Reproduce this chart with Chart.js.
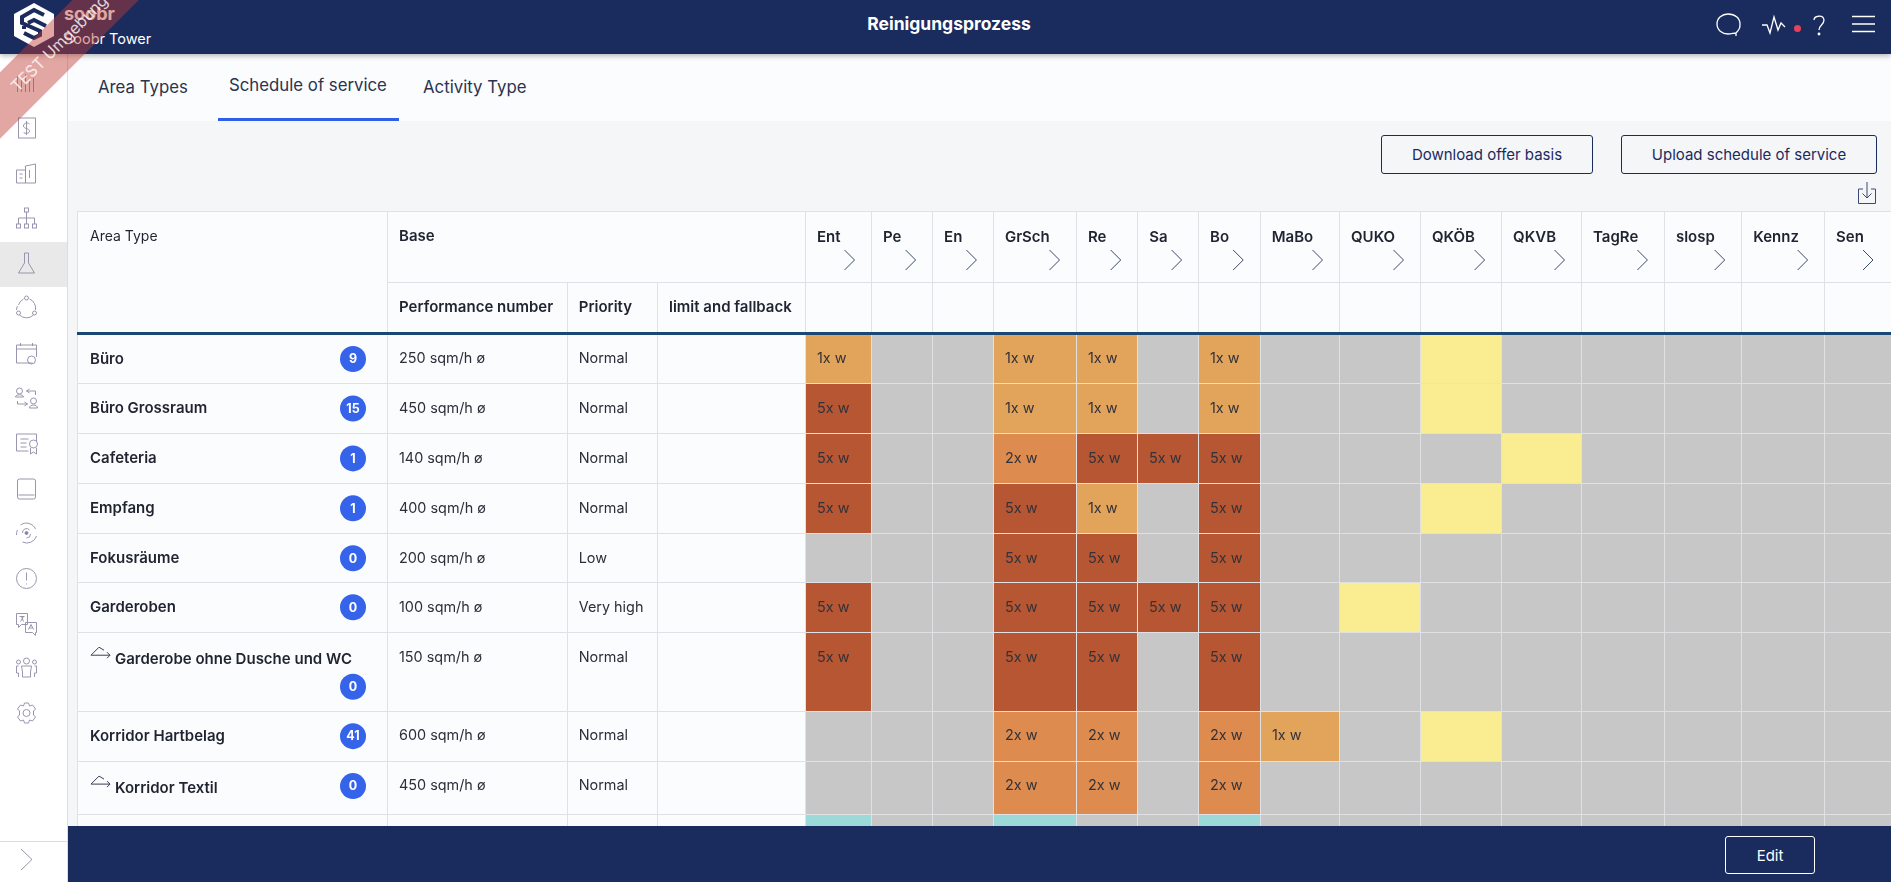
<!DOCTYPE html>
<html>
<head>
<meta charset="utf-8">
<title>Reinigungsprozess</title>
<script src="https://cdn.jsdelivr.net/npm/chart.js@4"></script>
<style>
  html, body { margin: 0; width: 1891px; height: 882px; overflow: hidden; background: #f5f6f8; font-family: Inter, Roboto, sans-serif; color: #1f2430; }
  .abs { position: absolute; }
  /* ============= TOP BAR ============== */
  .top-bar { position: absolute; left: 0; top: 0; width: 1891px; height: 54px; background: #1a2b5e; box-shadow: 0 2px 5px rgba(0,0,0,.28); z-index: 6; color: #fff; }
  .top-title { position: absolute; left: 0; width: 1898px; top: 13px; text-align: center; font-size: 17.5px; font-weight: 700; }
  .brand { position: absolute; left: 64px; top: 3px; font-size: 18px; font-weight: 700; }
  .site { position: absolute; left: 64px; top: 30px; font-size: 14.5px; }
  /* ============= SIDEBAR ============== */
  .sidebar { position: absolute; left: 0; top: 54px; width: 67px; height: 828px; background: #fff; border-right: 1px solid #dcdde0; z-index: 3; }
  .side-active { position: absolute; left: 0; top: 188px; width: 67px; height: 45px; background: #e9e9e9; }
  .side-line { position: absolute; left: 0; top: 787px; width: 67px; height: 1px; background: #dcdde0; }
  /* ============= TABS ============== */
  .tabs { position: absolute; left: 68px; top: 54px; width: 1823px; height: 67px; background: #fbfcfd; }
  .tab { position: absolute; font-size: 16.8px; color: #2a3350; white-space: nowrap; }
  .tab-line { position: absolute; left: 150px; top: 64px; width: 181px; height: 3px; background: #2f5fe8; }
  /* ============= BUTTONS ============== */
  .btn { position: absolute; box-sizing: border-box; border: 1px solid #1a2b5e; border-radius: 3px; color: #1a2b5e; font-size: 15px; display: flex; align-items: center; justify-content: center; }
  .bottom-bar { position: absolute; left: 68px; top: 826px; width: 1823px; height: 56px; background: #1a2b5e; z-index: 5; }
  .ribbon { position: absolute; left: -91px; top: 23px; width: 295px; padding-left: 5px; height: 47px; line-height: 43px; text-align: center; transform: rotate(-45deg); background: rgba(190,60,50,.45); color: rgba(255,255,255,.8); font-size: 16px; z-index: 10; }
  #chartWrap { position: absolute; left: 77px; top: 211px; width: 1814px; height: 653px; z-index: 1; }
</style>
</head>
<body>

<div class="tabs">
  <div class="tab" style="left:30px;top:23px">Area Types</div>
  <div class="tab" style="left:161px;top:21px">Schedule of service</div>
  <div class="tab" style="left:355px;top:23px">Activity Type</div>
  <div class="tab-line"></div>
</div>

<div class="btn" style="left:1381px;top:135px;width:212px;height:39px">Download offer basis</div>
<div class="btn" style="left:1621px;top:135px;width:256px;height:39px">Upload schedule of service</div>
<svg class="abs" style="left:1856px;top:181px" width="22" height="24" fill="none" stroke="#3a4a75">
  <path d="M7 8H2.5V22.5H19.5V8H15M11 1V17M6.5 12.5L11 17L15.5 12.5"/>
</svg>

<div id="chartWrap"><canvas id="scheduleChart" width="1814" height="653"></canvas></div>

<div class="bottom-bar">
  <div class="btn" style="left:1657px;top:10px;width:90px;height:38px;border-color:#fff;color:#fff">Edit</div>
</div>

<div class="top-bar">
  <svg class="abs" style="left:13px;top:2px" width="42" height="46">
    <path d="M21 1L41 12V34L21 45L1 34V12Z" fill="#fff"/>
    <path d="M31 13L21 8L9 15V21L27 29V33L21 36L11 31M11 24V27M15 21L21 18L33 24" fill="none" stroke="#1a2b5e" stroke-width="4"/>
  </svg>
  <div class="brand">soobr</div>
  <div class="site">Soobr Tower</div>
  <div class="top-title">Reinigungsprozess</div>
  <svg class="abs" style="left:1710px;top:8px" width="175" height="34" fill="none" stroke="#fff" stroke-width="1.3">
    <path d="M26 25C30 21 30 19 30 16C30 10 25 6 18 6C12 6 7 10 7 16C7 22 12 26 18 26C21 26 24 25 26 25V28"/>
    <path d="M52 17H57L60 25L64 9L68 22L71 15L75 19"/>
    <circle cx="87.5" cy="20.5" r="3.5" fill="#e8405a" stroke="none"/>
    <path d="M104 12C104 8 113 6 114 12C114 17 109 17 109 22"/>
    <circle cx="109" cy="26" r=".8"/>
    <path d="M142 8.5H165M142 16H165M142 23.5H165"/>
  </svg>
</div>

<div class="sidebar">
  <div class="side-active"></div>
  <div class="side-line"></div>
  <svg class="abs" style="left:0;top:-54px" width="67" height="882" fill="none" stroke="#8f8aa6" stroke-width=".9">
    <g transform="translate(26.5,83)"><path d="M-9 9V-7M-5 9V-3M-1 9V-9M3 9V-2M7 9V-5"/></g>
    <g transform="translate(26.5,128)"><rect x="-8" y="-10" width="17" height="20"/><path d="M3 -4C1 -6 -3 -5 -3 -2C-3 1 3 0 3 3C3 6 -2 6 -3 4M0 -7V7"/></g>
    <g transform="translate(26.5,173)"><path d="M-10 -3H-1V10H-10ZM-1 10V-7L9 -9V10H-1M-7 1H-4M-7 5H-4M3 -3V5"/></g>
    <g transform="translate(26.5,218)"><rect x="-2" y="-10" width="4" height="4"/><rect x="-10" y="6" width="4" height="4"/><rect x="-2" y="6" width="4" height="4"/><rect x="6" y="6" width="4" height="4"/><path d="M0 -6V6M-8 6V0H8V6"/></g>
    <g transform="translate(26.5,263)"><path d="M-2 -10H2V0L8 10H-8L-2 0Z"/></g>
    <g transform="translate(26.5,308)"><path d="M-8 -3A10 10 0 0 1 -3 -9M3 -9A10 10 0 0 1 9 2M7 7A10 10 0 0 1 -7 7M-10 2A10 10 0 0 1 -9 -2"/><circle cx="0" cy="-10" r="2"/><circle cx="-8" cy="5" r="2"/><circle cx="8" cy="5" r="2"/></g>
    <g transform="translate(26.5,354)"><path d="M6 9H-10V-9H10V3M-10 -5H10M-6 -11V-8M6 -11V-8"/><circle cx="5" cy="6" r="4"/></g>
    <g transform="translate(26.5,397)"><circle cx="-7" cy="-6" r="3"/><path d="M-11 0C-11 -3 -3 -3 -3 0V0H-11ZM3 -8L0 -6L3 -4M0 -6H9V-2M-9 4V7H1M-2 5L1 7L-2 9"/><circle cx="7" cy="4" r="3"/><path d="M3 11C3 7 11 7 11 11H3Z"/></g>
    <g transform="translate(26.5,443)"><path d="M6 -9H-10V8H2M-6 -4H2M-6 0H0M-6 4H0M10 -2V-9H6"/><circle cx="7" cy="1" r="4"/><path d="M4 5V11L7 9L10 11V5"/></g>
    <g transform="translate(26.5,489)"><rect x="-9" y="-10" width="18" height="20" rx="2"/><path d="M-8 6H8"/></g>
    <g transform="translate(26.5,533)"><path d="M-6 -8A10 10 0 0 1 9 -4M10 3A10 10 0 0 1 -4 9M-10 2A10 10 0 0 1 -9 -3"/><circle r="1.5" fill="#7f7a98"/><path d="M-4 0A4 4 0 0 1 3 -3M4 1A4 4 0 0 1 0 5"/></g>
    <g transform="translate(26.5,578.5)"><circle r="10"/><path d="M0 -6V2M0 5V6"/></g>
    <g transform="translate(26.5,623.5)"><path d="M-10 -10H1V1H-5L-8 4V1H-10ZM-1 -1H10V9H9V12L6 9H-1ZM-7 -7H-2M-5 -7L-3 -2M-3 -7L-6 -2M2 6L4.5 1L7 6M3 4.5H6"/></g>
    <g transform="translate(26.5,668)"><circle cx="0" cy="-7" r="3"/><circle cx="-8" cy="-6" r="2"/><circle cx="8" cy="-6" r="2"/><path d="M-5 -2H5L4 4V9H-4V4ZM-8 -2H-10V5H-8V9M8 -2H10V5H8V9"/></g>
    <g transform="translate(26.5,713)"><circle r="3.5"/><path d="M-2 -10H2L3 -7L6 -8L9 -4L7 -2L7 2L9 4L6 8L3 7L2 10H-2L-3 7L-6 8L-9 4L-7 2L-7 -2L-9 -4L-6 -8L-3 -7Z"/></g>
    <path d="M21 849L32 859.5L21 870" stroke="#8a8a9a"/>
  </svg>
</div>

<div class="ribbon">TEST Umgebung</div>

<script>
// --- data ---
const colNames = ["Ent","Pe","En","GrSch","Re","Sa","Bo","MaBo","QUKO","QKÖB","QKVB","TagRe","slosp","Kennz","Sen"];
const rowNames = ["Büro","Büro Grossraum","Cafeteria","Empfang","Fokusräume","Garderoben","Garderobe ohne Dusche und WC","Korridor Hartbelag","Korridor Textil",""];
const rowCounts = [9,15,1,1,0,0,0,41,0,null];
const rowPerf = ["250 sqm/h ø","450 sqm/h ø","140 sqm/h ø","400 sqm/h ø","200 sqm/h ø","100 sqm/h ø","150 sqm/h ø","600 sqm/h ø","450 sqm/h ø",""];
const rowPriority = ["Normal","Normal","Normal","Normal","Low","Very high","Normal","Normal","Normal",""];
const subRows = ["Garderobe ohne Dusche und WC","Korridor Textil"];

// cell values: number = times per week, Q = quality check (yellow), T = teal, 0 = not planned
const Q = "Q", T = "T";
const buero      = [1,0,0,1,1,0,1,0,0,Q,0,0,0,0,0];
const grossraum  = [5,0,0,1,1,0,1,0,0,Q,0,0,0,0,0];
const cafeteria  = [5,0,0,2,5,5,5,0,0,0,Q,0,0,0,0];
const empfang    = [5,0,0,5,1,0,5,0,0,Q,0,0,0,0,0];
const fokus      = [0,0,0,5,5,0,5,0,0,0,0,0,0,0,0];
const garderoben = [5,0,0,5,5,5,5,0,Q,0,0,0,0,0,0];
const garderobe2 = [5,0,0,5,5,0,5,0,0,0,0,0,0,0,0];
const hartbelag  = [0,0,0,2,2,0,2,1,0,Q,0,0,0,0,0];
const textil     = [0,0,0,2,2,0,2,0,0,0,0,0,0,0,0];
const lastRow    = [T,0,0,T,0,0,T,0,0,0,0,0,0,0,0];
const rowValues = [buero,grossraum,cafeteria,empfang,fokus,garderoben,garderobe2,hartbelag,textil,lastRow];

// --- layout of the table, in pixels ---
const colWidths = [66,61.1,60.8,83.1,61.2,60.9,61.6,79.3,81,81.1,79.9,82.9,77.3,82.9,66.9];
const rowHeights = [49.5,50,50,50,49,50,79,50,53,50];
const leftEdges = [0,310,489.7,580];
const colors = {0:"#c7c7c7",1:"#e2a35b",2:"#dd8b4e",5:"#b65632",Q:"#f9ec91",T:"#9cd9d9"};
const lineColor = "#e0e1e5";

const cumulate = (arr)=> arr.reduce((acc,v)=>{ acc.push(acc[acc.length-1]+v); return acc; },[0]);
const colEdges = cumulate(colWidths);
const rowEdges = cumulate(rowHeights);

// one flat list of cells for the chart
const cells = [];
rowValues.forEach((vals,r)=> vals.forEach((v,c)=> cells.push({x:c,y:r,v:v})));

// Bar chart whose bars take their box from the column and row edges
class CellController extends Chart.BarController {
  updateElements(bars, start, count, mode){
    const xs = this._cachedMeta.xScale, ys = this._cachedMeta.yScale;
    for(let i=start;i<start+count;i++){
      const p = this.getParsed(i);
      const l = Math.round(xs.getPixelForValue(colEdges[p.x]))+1;
      const r = Math.round(xs.getPixelForValue(colEdges[p.x+1]));
      const t = Math.round(ys.getPixelForValue(rowEdges[p.y]))+1;
      const b = Math.round(ys.getPixelForValue(rowEdges[p.y+1]));
      this.updateElement(bars[i], i, {
        x:(l+r)/2, y:t, base:b, width:r-l, height:b-t, horizontal:false,
        borderSkipped:{}, enableBorderRadius:false, inflateAmount:0,
        options:this.resolveDataElementOptions(i, mode)
      }, mode);
    }
  }
}
CellController.id = "cell";
Chart.register(CellController);

const textAt = (ctx, txt, x, y, font, color)=>{
  ctx.font = font; ctx.fillStyle = color;
  ctx.textAlign = "left"; ctx.textBaseline = "middle";
  ctx.fillText(txt, x, y);
};

const REG = "14.4px Inter", BOLD = "600 15px Inter", INK = "#2b2f3a", HEAD = "#1f2430";

// Table frame: background and lines go under the axis, texts on top of the cells
const tableFrame = {
  id:"tableFrame",
  beforeDraw(chart){
    const {ctx, scales:{x,y}, chartArea:a, width} = chart;
    ctx.save();
    ctx.fillStyle = "#fbfcfe";
    ctx.fillRect(0,0,width,chart.height);
    ctx.fillStyle = lineColor;
    ctx.fillRect(a.left,a.top,width-a.left,chart.height-a.top);
    // top and header lines
    ctx.fillRect(0,0,width,1);
    ctx.fillRect(leftEdges[1],71,width-leftEdges[1],1);
    ctx.fillRect(0,0,1,chart.height);
    // vertical lines of the left columns
    leftEdges.slice(1).forEach((e,i)=>{
      const top = i==0 ? 0 : 71;
      ctx.fillRect(Math.round(e),top,1,chart.height-top);
    });
    // vertical lines of the week columns, header part
    colEdges.slice(0,-1).forEach((e)=> ctx.fillRect(Math.round(x.getPixelForValue(e)),0,1,a.top));
    // row lines, left part
    rowEdges.slice(1).forEach((e)=> ctx.fillRect(0,Math.round(y.getPixelForValue(e)),a.left,1));
    ctx.restore();
  },
  afterDatasetsDraw(chart){
    const {ctx, scales:{x,y}, chartArea:a, width} = chart;
    ctx.save();
    // cell labels
    const meta = chart.getDatasetMeta(0);
    meta.data.forEach((bar,i)=>{
      const cell = cells[i];
      if(typeof cell.v==="number" && cell.v>0){
        textAt(ctx, cell.v+"x w", bar.x-bar.width/2+11, y.getPixelForValue(rowEdges[cell.y])+25, REG, "#33323a");
      }
    });
    // thick header line
    ctx.fillStyle = "#1b4775";
    ctx.fillRect(0,a.top-2,width,3);
    // header texts
    textAt(ctx,"Area Type",13,25.5,"14px Inter",HEAD);
    textAt(ctx,"Base",leftEdges[1]+12,25,BOLD,HEAD);
    textAt(ctx,"Performance number",leftEdges[1]+12,96,BOLD,HEAD);
    textAt(ctx,"Priority",leftEdges[2]+12,96,BOLD,HEAD);
    textAt(ctx,"limit and fallback",leftEdges[3]+12,96,BOLD,HEAD);
    // chevrons of the week columns
    ctx.strokeStyle = "#3a4a6b"; ctx.lineWidth = 1;
    colEdges.slice(1).forEach((e)=>{
      const px = x.getPixelForValue(e)-(e==colEdges[colEdges.length-1]?18:16.5);
      ctx.beginPath();
      ctx.moveTo(px-10,39); ctx.lineTo(px,49); ctx.lineTo(px-10,59);
      ctx.stroke();
    });
    // left columns
    rowNames.forEach((name,r)=>{
      const top = y.getPixelForValue(rowEdges[r]);
      const cy = top+25;
      const sub = subRows.includes(name);
      if(sub){
        const iy = cy-9;
        ctx.strokeStyle = "#3a3f55";
        ctx.beginPath();
        ctx.moveTo(14,iy+7); ctx.lineTo(22,iy-1); ctx.lineTo(27,iy+2); ctx.moveTo(14,iy+7); ctx.lineTo(33,iy+7);
        ctx.moveTo(30,iy+4); ctx.lineTo(33,iy+7); ctx.lineTo(30,iy+10);
        ctx.stroke();
      }
      textAt(ctx,name,sub?38:13,cy+(sub?2:0),BOLD,HEAD);
      textAt(ctx,rowPerf[r],leftEdges[1]+12,cy,REG,INK);
      textAt(ctx,rowPriority[r],leftEdges[2]+12,cy,REG,INK);
      if(rowCounts[r]!==null){
        const by = rowHeights[r]>60 ? top+54.5 : cy;
        ctx.beginPath();
        ctx.fillStyle = "#3563e9";
        ctx.arc(276,by,13,0,Math.PI*2);
        ctx.fill();
        ctx.font = "700 12.5px Inter"; ctx.fillStyle = "#fff";
        ctx.textAlign = "center"; ctx.textBaseline = "middle";
        ctx.fillText(rowCounts[r],276,by+.5);
      }
    });
    ctx.restore();
  }
};

const ctx = document.getElementById("scheduleChart").getContext("2d");
new Chart(ctx, {
  type:"cell",
  data:{
    datasets:[{
      data:cells,
      backgroundColor:(c)=> c.raw ? colors[c.raw.v] : colors[0],
      borderWidth:0
    }]
  },
  options:{
    responsive:false,
    animation:false,
    layout:{padding:{left:728}},
    plugins:{legend:{display:false},tooltip:{enabled:false}},
    scales:{
      x:{
        type:"linear",position:"top",min:0,max:colEdges[colEdges.length-1],offset:false,
        grid:{display:false},border:{display:false},
        // fixed header height, and no room kept for the last label
        afterFit:(s)=>{ s.height = 123; s.paddingLeft = 0; s.paddingRight = 0; },
        afterBuildTicks:(s)=>{ s.ticks = colEdges.slice(0,-1).map((e)=>({value:e+12})); },
        ticks:{
          align:"start",autoSkip:false,maxRotation:0,padding:80,
          font:{family:"Inter",size:15,weight:"600"},color:HEAD,
          callback:(v,i)=> colNames[i]
        }
      },
      y:{type:"linear",reverse:true,min:0,max:rowEdges[rowEdges.length-1],display:false}
    }
  },
  plugins:[tableFrame]
});
</script>
</body>
</html>
